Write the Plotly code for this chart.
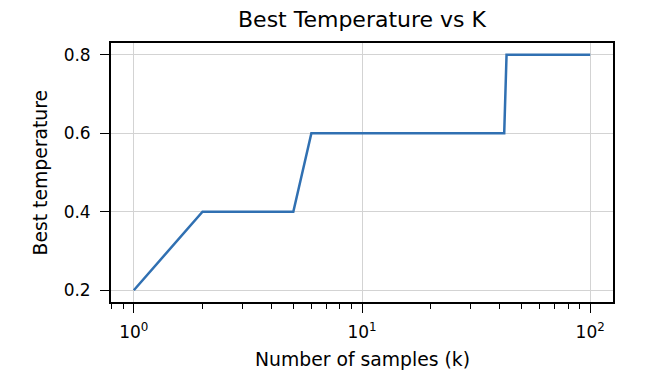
import math
import plotly.graph_objects as go

# Data
k_values = [1, 2, 5, 6, 42, 43, 100]
best_temp = [0.2, 0.4, 0.4, 0.6, 0.6, 0.8, 0.8]

x_tick_vals = [1, 10, 100]
x_tick_text = ["10<sup>0</sup>", "10<sup>1</sup>", "10<sup>2</sup>"]
y_tick_vals = [0.2, 0.4, 0.6, 0.8]
y_tick_text = ["0.2", "0.4", "0.6", "0.8"]

title_text = "Best Temperature vs K"
x_label = "Number of samples (k)"
y_label = "Best temperature"

FONT = "DejaVu Sans"
W, H = 653, 375
L, R, T, B = 111, 40, 43, 73
PW, PH = W - L - R, H - T - B

# matplotlib-like 5% auto margins
lx0, lx1 = math.log10(min(k_values)), math.log10(max(k_values))
px = 0.05 * (lx1 - lx0)
y0, y1 = min(best_temp), max(best_temp)
py = 0.05 * (y1 - y0)

minor_vals = [m * 10 ** e for e in range(-1, 3) for m in range(2, 10)]
minor_vals = [v for v in minor_vals if 10 ** (lx0 - px) <= v <= 10 ** (lx1 + px)]

fig = go.Figure()
fig.add_trace(go.Scatter(
    x=k_values, y=best_temp, mode="lines",
    line=dict(color="#3070b2", width=2.5),
    showlegend=False, hoverinfo="skip",
))

fig.update_layout(
    width=W, height=H,
    margin=dict(l=L, r=R, t=T, b=B),
    paper_bgcolor="white", plot_bgcolor="white",
    font=dict(family=FONT, color="black", size=17),
    title=dict(text=title_text, x=0.5, xref="paper", xanchor="center",
               y=1 - 19 / H, yref="container", yanchor="middle",
               font=dict(family=FONT, size=22, color="black")),
    xaxis=dict(
        type="log", range=[lx0 - px, lx1 + px],
        tickmode="array", tickvals=x_tick_vals, ticktext=x_tick_text,
        ticks="outside", ticklen=9, tickwidth=1.3, tickcolor="black",
        showline=True, linecolor="black", linewidth=1.8, mirror=True,
        showgrid=True, gridcolor="#d3d3d3", gridwidth=1,
        zeroline=False, ticklabelstandoff=5,
        tickfont=dict(family=FONT, size=17, color="black"),
        minor=dict(tickmode="array", tickvals=minor_vals, ticks="outside",
                   ticklen=5, tickwidth=1, tickcolor="black", showgrid=False),
    ),
    yaxis=dict(
        range=[y0 - py, y1 + py],
        tickmode="array", tickvals=y_tick_vals, ticktext=y_tick_text,
        ticks="outside", ticklen=9, tickwidth=1.3, tickcolor="black",
        showline=True, linecolor="black", linewidth=1.8, mirror=True,
        showgrid=True, gridcolor="#d3d3d3", gridwidth=1,
        zeroline=False, ticklabelstandoff=6,
        tickfont=dict(family=FONT, size=17, color="black"),
    ),
    annotations=[
        dict(text=x_label, xref="paper", yref="paper",
             x=0.5, y=(H - B - 359) / PH,
             xanchor="center", yanchor="middle", showarrow=False,
             font=dict(family=FONT, size=18.8, color="black")),
        dict(text=y_label, xref="paper", yref="paper",
             x=(40 - L) / PW, y=0.5, textangle=-90,
             xanchor="center", yanchor="middle", showarrow=False,
             font=dict(family=FONT, size=18.8, color="black")),
    ],
)

fig.write_html("out.html", config={"displayModeBar": False},
               post_script="document.body.style.margin='0';document.body.style.padding='0';")
